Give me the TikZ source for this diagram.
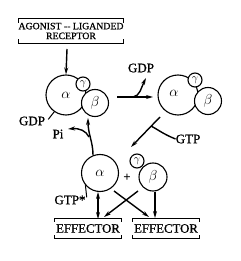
\documentclass[tikz,border=0pt]{standalone}
\usepackage{fontspec}
\setmainfont{Liberation Serif}
\newfontfamily\heavyserif[FakeBold=0.9]{Liberation Serif}
\usetikzlibrary{arrows.meta}
\begin{document}
\begin{tikzpicture}[x=1pt,y=-1pt,
  >={Stealth[length=7pt,width=4pt]},
  sub/.style={circle, draw, fill=white, inner sep=0pt, line width=1.1pt},
  arr/.style={line width=1.4pt},
  lbl/.style={inner sep=0pt, font=\heavyserif\fontsize{13}{13}\selectfont},
  greek/.style={font=\fontsize{14}{14}\selectfont},
  smallgreek/.style={font=\fontsize{11}{11}\selectfont},
  brk/.style={line width=1.2pt}]
\useasboundingbox (0,0) rectangle (240,261);

% receptor box
\node[inner sep=0pt, minimum width=95pt, minimum height=24pt, align=center,
      font=\heavyserif\fontsize{9.8}{9.8}\selectfont] (rec) at (71,31) {AGONIST -- LIGANDED\\RECEPTOR};
\draw[brk] ([yshift=-4pt]rec.north west) -- (rec.north west) -- (rec.north east) -- ([yshift=-4pt]rec.north east);
\draw[brk] ([yshift=4pt]rec.south west) -- (rec.south west) -- (rec.south east) -- ([yshift=4pt]rec.south east);

% left complex
\node[sub, minimum size=40pt] (a1) at (66,95) {};
\node[sub, minimum size=27pt] (b1) at (95,103) {};
\node[sub, minimum size=14pt] (c1) at (83,84) {};
\node[greek] at (a1) {$\alpha$};
\node[greek] at (b1) {$\beta$};
\node[smallgreek] at (c1) {$\gamma$};

% right complex
\node[sub, minimum size=40pt] (a2) at (178,95) {};
\node[sub, minimum size=27pt] (b2) at (208,101) {};
\node[sub, minimum size=14pt] (c2) at (195,80) {};
\node[greek] at ([xshift=-4pt,yshift=2pt]a2.center) {$\alpha$};
\node[greek] at (b2) {$\beta$};
\node[smallgreek] at (c2) {$\gamma$};

% bottom
\node[sub, minimum size=37pt] (a3) at (100,173) {};
\node[sub, minimum size=28pt] (b3) at (153,177) {};
\node[sub, minimum size=14pt] (c3) at (137,161) {};
\node[greek] at (a3) {$\alpha$};
\node[greek] at (b3) {$\beta$};
\node[smallgreek] at (c3) {$\gamma$};
\node[font=\bfseries\fontsize{13}{13}\selectfont, inner sep=0pt] (plus) at (127,178) {+};

% effectors
\node[inner sep=0pt, minimum width=66pt, minimum height=19pt,
      font=\heavyserif\fontsize{12.8}{13}\selectfont] (e1) at (88,228.5) {EFFECTOR};
\node[inner sep=0pt, minimum width=66pt, minimum height=19pt,
      font=\heavyserif\fontsize{12.8}{13}\selectfont] (e2) at (166,228.5) {EFFECTOR};
\foreach \e in {e1,e2}{
  \draw[brk] ([yshift=-3pt]\e.north west) -- (\e.north west) -- (\e.north east) -- ([yshift=-3pt]\e.north east);
  \draw[brk] ([yshift=3pt]\e.south west) -- (\e.south west) -- (\e.south east) -- ([yshift=3pt]\e.south east);
}

% labels
\node[lbl] (gdpL) at (32,121) {GDP};
\node[lbl] (gdpT) at (141,68) {GDP};
\node[lbl] (gtp) at (188,139) {GTP};
\node[lbl] (pi) at (58,134) {Pi};
\node[lbl] (gtps) at (70,200) {GTP*};

% connectors
\coordinate (r1) at (67,49);
\draw[arr,->] (r1) -- (a1.north);
\draw[line width=1pt] (a1.-125) -- ([xshift=3pt,yshift=-3pt]gdpL.north east);

\coordinate (h1) at (117,97);
\coordinate (h2) at (153,97);
\coordinate (hb) at (133,97);
\coordinate (gdpTip) at (146,78);
\draw[arr,->] (h1) -- (h2);
\draw[arr,->] (hb) .. controls (140,96) and (141,88) .. (gdpTip);

\coordinate (g1) at (160,117);
\coordinate (g2) at (131,147);
\coordinate (gb) at (151,126);
\draw[arr,->] (g1) -- (g2);
\draw[arr] (gtp.west) .. controls (163,134) and (157,129) .. (gb);

\coordinate (p1) at (93,155);
\coordinate (p2) at (88,118);
\coordinate (pb) at (89,137);
\coordinate (piTip) at (68,129);
\draw[arr,->] (p1) .. controls (93,142) and (88,134) .. (p2);
\draw[arr,->] (pb) .. controls (86,131) and (80,128) .. (piTip);

\draw[line width=1pt] (a3.-140) -- ([xshift=1pt,yshift=-2pt]gtps.north east);

\coordinate (d1) at (98,192);
\coordinate (d2) at (98,219);
\draw[arr,<->] (d1) -- (d2);
\coordinate (x1) at (114,191);
\coordinate (x2) at (149,217);
\coordinate (y1) at (138,191);
\coordinate (y2) at (104,217);
\draw[arr,->] (x1) -- (x2);
\draw[arr,->] (y1) -- (y2);
\coordinate (z1) at (155,192);
\coordinate (z2) at (155,218);
\draw[arr,->] (z1) -- (z2);
\end{tikzpicture}
\end{document}
